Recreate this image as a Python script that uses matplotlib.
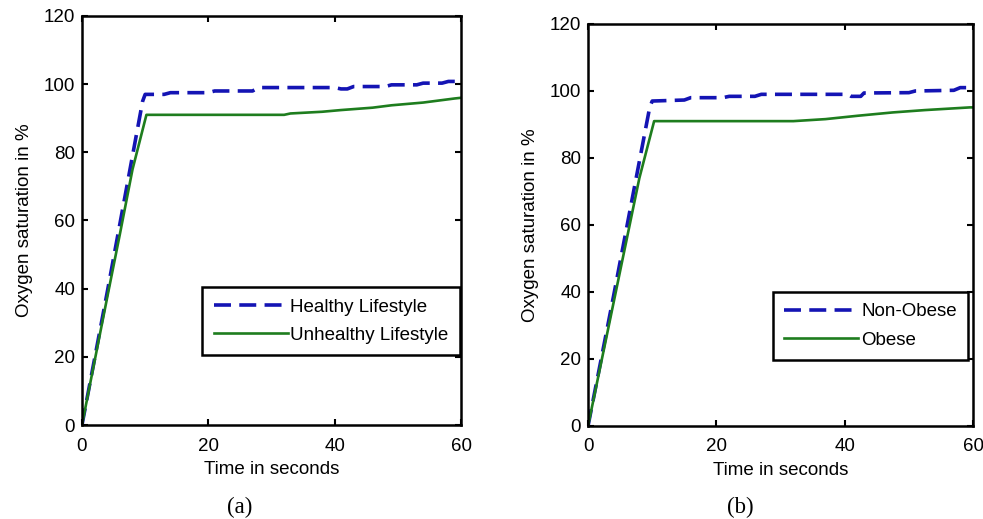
import matplotlib
matplotlib.use('Agg')
import matplotlib.pyplot as plt

# panel (a): lifestyle
t_healthy = [0, 2, 4, 6, 8, 9.6, 10, 13, 14, 20, 21, 27, 28, 40, 41, 42, 43,
             48, 49, 53, 54, 57, 58, 59.5, 60]
healthy = [0, 19.5, 39, 59, 79, 95, 97, 97, 97.5, 97.5, 98, 98, 99, 99, 98.6,
           98.6, 99.3, 99.3, 99.8, 99.8, 100.3, 100.3, 100.8, 100.8, 100.2]
t_unhealthy = [0, 2, 4, 6, 8, 10.2, 32, 33, 38, 41, 46, 49, 54, 59, 60]
unhealthy = [0, 18.8, 37.5, 56, 75, 91, 91, 91.4, 91.9, 92.4, 93.1, 93.8,
             94.6, 95.8, 96]

# panel (b): obesity
t_nonobese = [0, 2, 4, 6, 8, 9.6, 10, 15, 16, 21, 22, 26, 27, 40.5, 41, 42.5,
              43, 50, 51, 57, 58, 59.5, 60]
nonobese = [0, 19.5, 39, 59, 79, 95, 97, 97.3, 98, 98, 98.4, 98.4, 99, 99,
            98.4, 98.4, 99.4, 99.5, 100, 100.2, 101, 101, 100.5]
t_obese = [0, 2, 4, 6, 8, 10.3, 32, 37, 42, 47.5, 52.5, 59.5, 60]
obese = [0, 18.5, 37, 55.5, 74, 91, 91, 91.6, 92.6, 93.6, 94.3, 95.1, 95.1]

labels_a = ['Healthy Lifestyle', 'Unhealthy Lifestyle']
labels_b = ['Non-Obese', 'Obese']
xticks = [0, 20, 40, 60]
yticks = [0, 20, 40, 60, 80, 100, 120]

blue = '#1414b4'
green = '#1e7d1e'
fs = 13.5

plt.rcParams['font.family'] = ['Liberation Sans', 'DejaVu Sans']
plt.rcParams['font.size'] = fs

fig = plt.figure(figsize=(9.83, 5.19), dpi=100)
ax1 = fig.add_axes([0.0834, 0.1811, 0.3856, 0.7881])
ax2 = fig.add_axes([0.5982, 0.1792, 0.3917, 0.7746])


def draw_panel(ax, t1, y1, t2, y2, labels, leg_anchor, caption, cap_x):
    ax.plot(t1, y1, color=blue, lw=2.6, dashes=(4.7, 2.3), label=labels[0])
    ax.plot(t2, y2, color=green, lw=1.9, label=labels[1])
    ax.set_xlim(0, 60)
    ax.set_ylim(0, 120)
    ax.set_xticks(xticks)
    ax.set_yticks(yticks)
    ax.tick_params(direction='in', top=True, right=True, length=4, width=1.5,
                   labelsize=fs, pad=5)
    ax.tick_params(axis='x', pad=9)
    for sp in ax.spines.values():
        sp.set_linewidth(1.8)
    ax.set_xlabel('Time in seconds', fontsize=fs, labelpad=5)
    ax.set_ylabel('Oxygen saturation in %', fontsize=fs, labelpad=8)
    leg = ax.legend(loc='upper right', bbox_to_anchor=leg_anchor,
                    fancybox=False, framealpha=1, edgecolor='black',
                    handlelength=3.95, handletextpad=0.15, borderpad=0.6,
                    labelspacing=0.6, borderaxespad=0, fontsize=fs)
    leg.get_frame().set_linewidth(1.8)
    fig.text(cap_x, 1 - 497 / 519, caption, ha='center', va='top',
             fontsize=16.5, family=['Liberation Serif'])


draw_panel(ax1, t_healthy, healthy, t_unhealthy, unhealthy, labels_a,
           (0.997, 0.337), '(a)', 240 / 983)
draw_panel(ax2, t_nonobese, nonobese, t_obese, obese, labels_b,
           (0.987, 0.333), '(b)', 740 / 983)

fig.savefig('out.png', dpi=100)
